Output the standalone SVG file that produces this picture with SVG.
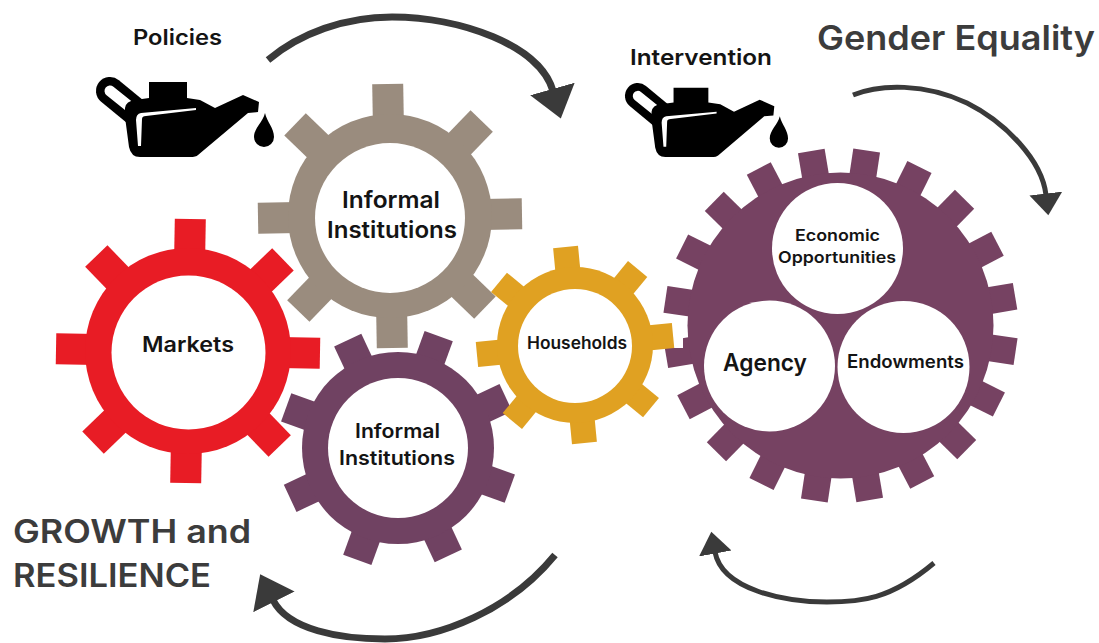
<svg xmlns="http://www.w3.org/2000/svg" width="1099" height="643" viewBox="0 0 1099 643">
<style>
text{font-family:"Inter","Liberation Sans",sans-serif;font-weight:600;fill:#141414;text-anchor:start}
.big{fill:#3c3c3c}
.arrow{fill:none;stroke:#3a3a3a;stroke-linecap:butt;marker-end:url(#head)}
.hole{fill:#fff}
</style>
<defs>
<marker id="head" markerUnits="strokeWidth" markerWidth="4.6" markerHeight="7" refX="0.3" refY="3.3" viewBox="0 0 4.6 6.6" orient="auto"><path d="M0 0L4.4 3.3L0 6.6Z" fill="#3a3a3a"/></marker>
<g id="teeth8">
<rect x="-15.5" y="-132" width="31" height="40"/>
<rect x="-15.5" y="-132" width="31" height="40" transform="rotate(45)"/>
<rect x="-15.5" y="-132" width="31" height="40" transform="rotate(90)"/>
<rect x="-15.5" y="-132" width="31" height="40" transform="rotate(135)"/>
<rect x="-15.5" y="-132" width="31" height="40" transform="rotate(180)"/>
<rect x="-15.5" y="-132" width="31" height="40" transform="rotate(225)"/>
<rect x="-15.5" y="-132" width="31" height="40" transform="rotate(270)"/>
<rect x="-15.5" y="-132" width="31" height="40" transform="rotate(315)"/>
</g>
<g id="teeth8m">
<rect x="-15" y="-119" width="30" height="34"/>
<rect x="-15" y="-119" width="30" height="34" transform="rotate(45)"/>
<rect x="-15" y="-119" width="30" height="34" transform="rotate(90)"/>
<rect x="-15" y="-119" width="30" height="34" transform="rotate(135)"/>
<rect x="-15" y="-119" width="30" height="34" transform="rotate(180)"/>
<rect x="-15" y="-119" width="30" height="34" transform="rotate(225)"/>
<rect x="-15" y="-119" width="30" height="34" transform="rotate(270)"/>
<rect x="-15" y="-119" width="30" height="34" transform="rotate(315)"/>
</g>
<g id="teeth8s">
<rect x="-12.500" y="-98.500" width="25" height="28"/>
<rect x="-12.500" y="-98.500" width="25" height="28" transform="rotate(45)"/>
<rect x="-12.500" y="-98.500" width="25" height="28" transform="rotate(90)"/>
<rect x="-12.500" y="-98.500" width="25" height="28" transform="rotate(135)"/>
<rect x="-12.500" y="-98.500" width="25" height="28" transform="rotate(180)"/>
<rect x="-12.500" y="-98.500" width="25" height="28" transform="rotate(225)"/>
<rect x="-12.500" y="-98.500" width="25" height="28" transform="rotate(270)"/>
<rect x="-12.500" y="-98.500" width="25" height="28" transform="rotate(315)"/>
</g>
<g id="teeth20">
<rect x="-13.5" y="-177" width="27" height="35"/>
<rect x="-13.5" y="-177" width="27" height="35" transform="rotate(18)"/>
<rect x="-13.5" y="-177" width="27" height="35" transform="rotate(36)"/>
<rect x="-13.5" y="-177" width="27" height="35" transform="rotate(54)"/>
<rect x="-13.5" y="-177" width="27" height="35" transform="rotate(72)"/>
<rect x="-13.5" y="-177" width="27" height="35" transform="rotate(90)"/>
<rect x="-13.5" y="-177" width="27" height="35" transform="rotate(108)"/>
<rect x="-13.5" y="-177" width="27" height="35" transform="rotate(126)"/>
<rect x="-13.5" y="-177" width="27" height="35" transform="rotate(144)"/>
<rect x="-13.5" y="-177" width="27" height="35" transform="rotate(162)"/>
<rect x="-13.5" y="-177" width="27" height="35" transform="rotate(180)"/>
<rect x="-13.5" y="-177" width="27" height="35" transform="rotate(198)"/>
<rect x="-13.5" y="-177" width="27" height="35" transform="rotate(216)"/>
<rect x="-13.5" y="-177" width="27" height="35" transform="rotate(234)"/>
<rect x="-13.5" y="-177" width="27" height="35" transform="rotate(252)"/>
<rect x="-13.5" y="-177" width="27" height="35" transform="rotate(270)"/>
<rect x="-13.5" y="-177" width="27" height="35" transform="rotate(288)"/>
<rect x="-13.5" y="-177" width="27" height="35" transform="rotate(306)"/>
<rect x="-13.5" y="-177" width="27" height="35" transform="rotate(324)"/>
<rect x="-13.5" y="-177" width="27" height="35" transform="rotate(342)"/>
</g>
<g id="can">
<path d="M110 91L138 114" fill="none" stroke="#000" stroke-width="28" stroke-linecap="round"/>
<path d="M110 91L130 107" fill="none" stroke="#fff" stroke-width="11" stroke-linecap="round"/>
<path d="M125 108Q126 101 135 100L149 98V82H187V98L200 100L215 108L243 95L259 102L258 112L248 113L198 155Q196 157 190 157H140Q131 157 129 147L125 117Z" fill="#000"/>
<path d="M196 108L141 113Q136 114 136 120L138 146L141 146L142 119Q142 116 146 116L196 110Z" fill="#fff"/>
<path d="M265 113C267 122 274 128 274 137A10 10 0 0 1 254 137C254 128 263 122 265 113Z" fill="#000"/>
</g>
</defs>
<rect width="1099" height="643" fill="#fff"/>
<g id="connectors">
<path class="arrow" stroke-width="7" d="M268 60C300 33 345 17 392 17C460 17 540 45 553 91"/>
<path class="arrow" stroke-width="5" d="M853 95C880 84 925 83 967 103C1005 122 1042 160 1046 195"/>
<path class="arrow" stroke-width="5" d="M934 563C890 600 860 602 827 602C785 602 722 590 715 552"/>
<path class="arrow" stroke-width="7" d="M555 555C510 610 440 639 385 639C340 639 288 630 273 600"/>
</g>
<g id="policies-can"><use href="#can"/></g>
<g id="intervention-can"><use href="#can" transform="translate(625 83) scale(.916 .925) translate(-96 -77)"/></g>
<g id="node-gender-gear" fill="#764262">
<use href="#teeth20" transform="translate(840.5 325.5) rotate(8.5)"/>
<circle cx="840.5" cy="325.5" r="153"/>
<circle class="hole" cx="837.5" cy="248.5" r="65.5"/>
<circle class="hole" cx="769.5" cy="366" r="65.5"/>
<circle class="hole" cx="903.5" cy="367" r="66"/>
<text x="795" y="241" font-size="16" textLength="85" lengthAdjust="spacingAndGlyphs">Economic</text>
<text x="778" y="263" font-size="16" textLength="118" lengthAdjust="spacingAndGlyphs">Opportunities</text>
<text x="723" y="371" font-size="24" textLength="84" lengthAdjust="spacingAndGlyphs">Agency</text>
<text x="847" y="368" font-size="18" textLength="117" lengthAdjust="spacingAndGlyphs">Endowments</text>
</g>
<g id="node-markets" fill="#e81c25">
<use href="#teeth8" transform="translate(188 351) rotate(1)"/>
<circle cx="188" cy="351" r="103"/>
<circle class="hole" cx="188.500" cy="352.500" r="77"/>
<text x="142" y="352" font-size="21" textLength="92" lengthAdjust="spacingAndGlyphs">Markets</text>
</g>
<g id="node-informal-top" fill="#9a8c7e">
<use href="#teeth8" transform="translate(390 216) rotate(-1)"/>
<circle cx="390" cy="216" r="102"/>
<circle class="hole" cx="390" cy="218" r="75"/>
<text x="342" y="208" font-size="23" textLength="98" lengthAdjust="spacingAndGlyphs">Informal</text>
<text x="327" y="238" font-size="23" textLength="130" lengthAdjust="spacingAndGlyphs">Institutions</text>
</g>
<g id="node-informal-bottom" fill="#704262">
<use href="#teeth8m" transform="translate(398 448) rotate(20)"/>
<circle cx="398" cy="448" r="96"/>
<circle class="hole" cx="398" cy="448" r="70"/>
<text x="355" y="438" font-size="20" textLength="85" lengthAdjust="spacingAndGlyphs">Informal</text>
<text x="339" y="465" font-size="20" textLength="116" lengthAdjust="spacingAndGlyphs">Institutions</text>
</g>
<g id="node-households" fill="#e0a122">
<rect x="660" y="320" width="23" height="28" fill="#fff"/>
<use href="#teeth8s" transform="translate(575 345) rotate(-5.500)"/>
<circle cx="575" cy="345" r="78"/>
<circle class="hole" cx="575" cy="346" r="57"/>
<text x="527" y="349" font-size="17" textLength="100" lengthAdjust="spacingAndGlyphs">Households</text>
</g>
<text id="label-policies" x="133" y="45" font-size="21" textLength="89" lengthAdjust="spacingAndGlyphs">Policies</text>
<text id="label-intervention" x="630" y="65" font-size="22" textLength="142" lengthAdjust="spacingAndGlyphs">Intervention</text>
<text id="label-gender" class="big" x="817" y="50" font-size="34" textLength="278" lengthAdjust="spacingAndGlyphs">Gender Equality</text>
<text id="label-growth" class="big" x="13" y="543" font-size="32" textLength="238" lengthAdjust="spacingAndGlyphs">GROWTH and</text>
<text id="label-resilience" class="big" x="13" y="587" font-size="32" textLength="198" lengthAdjust="spacingAndGlyphs">RESILIENCE</text>
</svg>
